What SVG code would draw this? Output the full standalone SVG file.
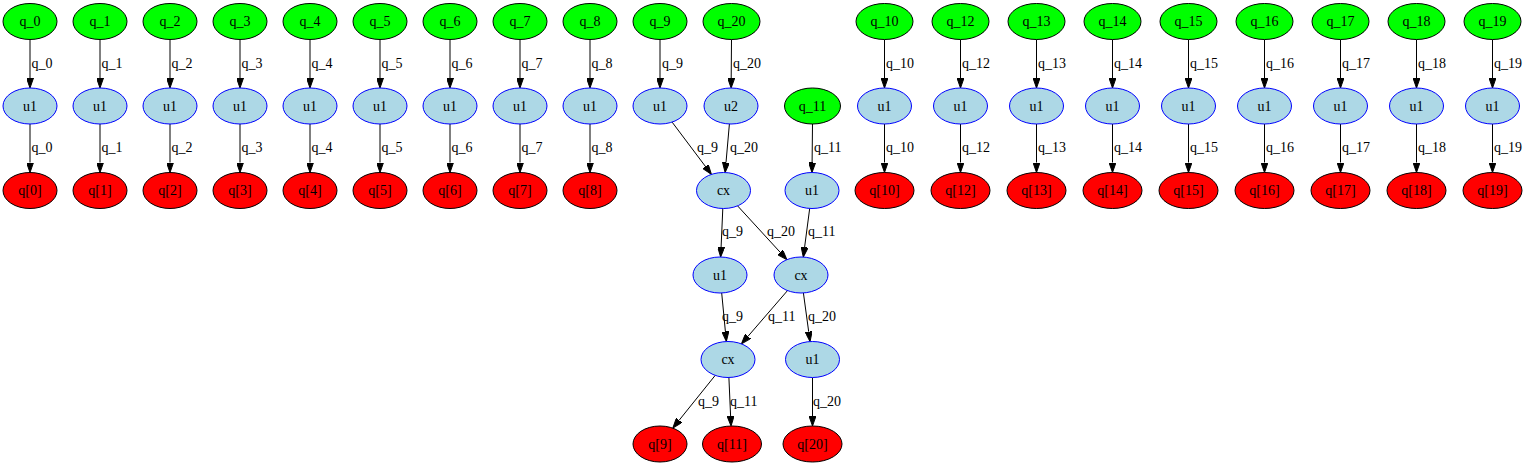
<svg xmlns="http://www.w3.org/2000/svg" width="1525" height="466" viewBox="0 0 1525 466">
<style>
text{font-family:"Liberation Serif","Times New Roman",serif;font-size:14px;fill:#000}
.n text{text-anchor:middle}
.in{fill:#00ff00;stroke:#000}
.op{fill:#add8e6;stroke:#0000ff}
.out{fill:#ff0000;stroke:#000}
#edges line{stroke:#000;stroke-width:1;marker-end:url(#ah)}
</style>
<defs>
<marker id="ah" markerUnits="userSpaceOnUse" markerWidth="10" markerHeight="7" viewBox="0 0 10 7" refX="0" refY="3.5" orient="auto"><path d="M0,0 L10,3.5 L0,7 z" fill="#000" stroke="#000"/></marker>
</defs>
<rect width="1525" height="466" fill="#fff"/>
<g id="edges">
<line x1="30" y1="39.5" x2="30" y2="78"/><line x1="30" y1="124" x2="30" y2="162.5"/>
<line x1="100" y1="39.5" x2="100" y2="78"/><line x1="100" y1="124" x2="100" y2="162.5"/>
<line x1="170" y1="39.5" x2="170" y2="78"/><line x1="170" y1="124" x2="170" y2="162.5"/>
<line x1="240" y1="39.5" x2="240" y2="78"/><line x1="240" y1="124" x2="240" y2="162.5"/>
<line x1="310" y1="39.5" x2="310" y2="78"/><line x1="310" y1="124" x2="310" y2="162.5"/>
<line x1="380" y1="39.5" x2="380" y2="78"/><line x1="380" y1="124" x2="380" y2="162.5"/>
<line x1="450" y1="39.5" x2="450" y2="78"/><line x1="450" y1="124" x2="450" y2="162.5"/>
<line x1="520" y1="39.5" x2="520" y2="78"/><line x1="520" y1="124" x2="520" y2="162.5"/>
<line x1="590" y1="39.5" x2="590" y2="78"/><line x1="590" y1="124" x2="590" y2="162.5"/>
<line x1="884.5" y1="39.5" x2="884.5" y2="78"/><line x1="884.5" y1="124" x2="884.5" y2="162.5"/>
<line x1="960.5" y1="39.5" x2="960.5" y2="78"/><line x1="960.5" y1="124" x2="960.5" y2="162.5"/>
<line x1="1036.5" y1="39.5" x2="1036.5" y2="78"/><line x1="1036.5" y1="124" x2="1036.5" y2="162.5"/>
<line x1="1112.5" y1="39.5" x2="1112.5" y2="78"/><line x1="1112.5" y1="124" x2="1112.5" y2="162.5"/>
<line x1="1188.5" y1="39.5" x2="1188.5" y2="78"/><line x1="1188.5" y1="124" x2="1188.5" y2="162.5"/>
<line x1="1264.5" y1="39.5" x2="1264.5" y2="78"/><line x1="1264.5" y1="124" x2="1264.5" y2="162.5"/>
<line x1="1340.5" y1="39.5" x2="1340.5" y2="78"/><line x1="1340.5" y1="124" x2="1340.5" y2="162.5"/>
<line x1="1416.5" y1="39.5" x2="1416.5" y2="78"/><line x1="1416.5" y1="124" x2="1416.5" y2="162.5"/>
<line x1="1492.5" y1="39.5" x2="1492.5" y2="78"/><line x1="1492.5" y1="124" x2="1492.5" y2="162.5"/>
<line x1="660" y1="39.5" x2="660" y2="78"/>
<line x1="731.5" y1="39.5" x2="731.2" y2="78"/>
<line x1="672.1" y1="122.1" x2="705.4" y2="166.4"/>
<line x1="729.4" y1="124" x2="726" y2="162.5"/>
<line x1="812.5" y1="124" x2="812.1" y2="162.5"/>
<line x1="722.8" y1="208.5" x2="721.1" y2="247"/>
<line x1="737.6" y1="205.9" x2="780.1" y2="252.2"/>
<line x1="809.7" y1="208.4" x2="804.6" y2="247.2"/>
<line x1="721.7" y1="293" x2="725.4" y2="331.5"/>
<line x1="787.5" y1="290.6" x2="748" y2="336.3"/>
<line x1="803.4" y1="292.9" x2="808.7" y2="331.7"/>
<line x1="715.2" y1="375.4" x2="679.1" y2="420.3"/>
<line x1="728.9" y1="377.5" x2="730.6" y2="416"/>
<line x1="812.5" y1="377.5" x2="812.5" y2="416"/>
<g id="edge-labels">
<text x="31.5" y="68">q_0</text><text x="31.5" y="152">q_0</text>
<text x="101.5" y="68">q_1</text><text x="101.5" y="152">q_1</text>
<text x="171.5" y="68">q_2</text><text x="171.5" y="152">q_2</text>
<text x="241.5" y="68">q_3</text><text x="241.5" y="152">q_3</text>
<text x="311.5" y="68">q_4</text><text x="311.5" y="152">q_4</text>
<text x="381.5" y="68">q_5</text><text x="381.5" y="152">q_5</text>
<text x="451.5" y="68">q_6</text><text x="451.5" y="152">q_6</text>
<text x="521.5" y="68">q_7</text><text x="521.5" y="152">q_7</text>
<text x="591.5" y="68">q_8</text><text x="591.5" y="152">q_8</text>
<text x="886" y="68">q_10</text><text x="886" y="152">q_10</text>
<text x="962" y="68">q_12</text><text x="962" y="152">q_12</text>
<text x="1038" y="68">q_13</text><text x="1038" y="152">q_13</text>
<text x="1114" y="68">q_14</text><text x="1114" y="152">q_14</text>
<text x="1190" y="68">q_15</text><text x="1190" y="152">q_15</text>
<text x="1266" y="68">q_16</text><text x="1266" y="152">q_16</text>
<text x="1342" y="68">q_17</text><text x="1342" y="152">q_17</text>
<text x="1418" y="68">q_18</text><text x="1418" y="152">q_18</text>
<text x="1494" y="68">q_19</text><text x="1494" y="152">q_19</text>
<text x="662" y="68">q_9</text>
<text x="733" y="68">q_20</text>
<text x="697" y="152">q_9</text>
<text x="730" y="152">q_20</text>
<text x="814" y="152">q_11</text>
<text x="722" y="236">q_9</text>
<text x="767" y="236">q_20</text>
<text x="808" y="236">q_11</text>
<text x="722" y="321">q_9</text>
<text x="768" y="321">q_11</text>
<text x="808" y="321">q_20</text>
<text x="698" y="406">q_9</text>
<text x="730" y="406">q_11</text>
<text x="813" y="406">q_20</text>
</g>
</g>
<g id="n_q0" class="n"><ellipse class="in" cx="30" cy="21.5" rx="27" ry="18"/><text x="30" y="26">q_0</text></g>
<g id="n_u1_0" class="n"><ellipse class="op" cx="30" cy="106" rx="27" ry="18"/><text x="30" y="110.5">u1</text></g>
<g id="n_out0" class="n"><ellipse class="out" cx="30" cy="190.5" rx="27" ry="18"/><text x="30" y="195">q[0]</text></g>
<g id="n_q1" class="n"><ellipse class="in" cx="100" cy="21.5" rx="27" ry="18"/><text x="100" y="26">q_1</text></g>
<g id="n_u1_1" class="n"><ellipse class="op" cx="100" cy="106" rx="27" ry="18"/><text x="100" y="110.5">u1</text></g>
<g id="n_out1" class="n"><ellipse class="out" cx="100" cy="190.5" rx="27" ry="18"/><text x="100" y="195">q[1]</text></g>
<g id="n_q2" class="n"><ellipse class="in" cx="170" cy="21.5" rx="27" ry="18"/><text x="170" y="26">q_2</text></g>
<g id="n_u1_2" class="n"><ellipse class="op" cx="170" cy="106" rx="27" ry="18"/><text x="170" y="110.5">u1</text></g>
<g id="n_out2" class="n"><ellipse class="out" cx="170" cy="190.5" rx="27" ry="18"/><text x="170" y="195">q[2]</text></g>
<g id="n_q3" class="n"><ellipse class="in" cx="240" cy="21.5" rx="27" ry="18"/><text x="240" y="26">q_3</text></g>
<g id="n_u1_3" class="n"><ellipse class="op" cx="240" cy="106" rx="27" ry="18"/><text x="240" y="110.5">u1</text></g>
<g id="n_out3" class="n"><ellipse class="out" cx="240" cy="190.5" rx="27" ry="18"/><text x="240" y="195">q[3]</text></g>
<g id="n_q4" class="n"><ellipse class="in" cx="310" cy="21.5" rx="27" ry="18"/><text x="310" y="26">q_4</text></g>
<g id="n_u1_4" class="n"><ellipse class="op" cx="310" cy="106" rx="27" ry="18"/><text x="310" y="110.5">u1</text></g>
<g id="n_out4" class="n"><ellipse class="out" cx="310" cy="190.5" rx="27" ry="18"/><text x="310" y="195">q[4]</text></g>
<g id="n_q5" class="n"><ellipse class="in" cx="380" cy="21.5" rx="27" ry="18"/><text x="380" y="26">q_5</text></g>
<g id="n_u1_5" class="n"><ellipse class="op" cx="380" cy="106" rx="27" ry="18"/><text x="380" y="110.5">u1</text></g>
<g id="n_out5" class="n"><ellipse class="out" cx="380" cy="190.5" rx="27" ry="18"/><text x="380" y="195">q[5]</text></g>
<g id="n_q6" class="n"><ellipse class="in" cx="450" cy="21.5" rx="27" ry="18"/><text x="450" y="26">q_6</text></g>
<g id="n_u1_6" class="n"><ellipse class="op" cx="450" cy="106" rx="27" ry="18"/><text x="450" y="110.5">u1</text></g>
<g id="n_out6" class="n"><ellipse class="out" cx="450" cy="190.5" rx="27" ry="18"/><text x="450" y="195">q[6]</text></g>
<g id="n_q7" class="n"><ellipse class="in" cx="520" cy="21.5" rx="27" ry="18"/><text x="520" y="26">q_7</text></g>
<g id="n_u1_7" class="n"><ellipse class="op" cx="520" cy="106" rx="27" ry="18"/><text x="520" y="110.5">u1</text></g>
<g id="n_out7" class="n"><ellipse class="out" cx="520" cy="190.5" rx="27" ry="18"/><text x="520" y="195">q[7]</text></g>
<g id="n_q8" class="n"><ellipse class="in" cx="590" cy="21.5" rx="27" ry="18"/><text x="590" y="26">q_8</text></g>
<g id="n_u1_8" class="n"><ellipse class="op" cx="590" cy="106" rx="27" ry="18"/><text x="590" y="110.5">u1</text></g>
<g id="n_out8" class="n"><ellipse class="out" cx="590" cy="190.5" rx="27" ry="18"/><text x="590" y="195">q[8]</text></g>
<g id="n_q9" class="n"><ellipse class="in" cx="660" cy="21.5" rx="27" ry="18"/><text x="660" y="26">q_9</text></g>
<g id="n_u1_9" class="n"><ellipse class="op" cx="660" cy="106" rx="27" ry="18"/><text x="660" y="110.5">u1</text></g>
<g id="n_q20" class="n"><ellipse class="in" cx="731.5" cy="21.5" rx="28.5" ry="18"/><text x="731.5" y="26">q_20</text></g>
<g id="n_u2_20" class="n"><ellipse class="op" cx="731" cy="106" rx="27" ry="18"/><text x="731" y="110.5">u2</text></g>
<g id="n_q11" class="n"><ellipse class="in" cx="812.5" cy="106" rx="28" ry="18"/><text x="812.5" y="110.5">q_11</text></g>
<g id="n_cx1" class="n"><ellipse class="op" cx="723.5" cy="190.5" rx="27" ry="18"/><text x="723.5" y="195">cx</text></g>
<g id="n_u1_11" class="n"><ellipse class="op" cx="812" cy="190.5" rx="27" ry="18"/><text x="812" y="195">u1</text></g>
<g id="n_u1_9b" class="n"><ellipse class="op" cx="720" cy="275" rx="27" ry="18"/><text x="720" y="279.5">u1</text></g>
<g id="n_cx2" class="n"><ellipse class="op" cx="801" cy="275" rx="27" ry="18"/><text x="801" y="279.5">cx</text></g>
<g id="n_cx3" class="n"><ellipse class="op" cx="728" cy="359.5" rx="27" ry="18"/><text x="728" y="364">cx</text></g>
<g id="n_u1_20" class="n"><ellipse class="op" cx="812.5" cy="359.5" rx="27" ry="18"/><text x="812.5" y="364">u1</text></g>
<g id="n_out9" class="n"><ellipse class="out" cx="660" cy="444" rx="27" ry="18"/><text x="660" y="448.5">q[9]</text></g>
<g id="n_out11" class="n"><ellipse class="out" cx="732" cy="444" rx="29.5" ry="18"/><text x="732" y="448.5">q[11]</text></g>
<g id="n_out20" class="n"><ellipse class="out" cx="812.5" cy="444" rx="29.5" ry="18"/><text x="812.5" y="448.5">q[20]</text></g>
<g id="n_q10" class="n"><ellipse class="in" cx="884.5" cy="21.5" rx="28.5" ry="18"/><text x="884.5" y="26">q_10</text></g>
<g id="n_u1_10" class="n"><ellipse class="op" cx="884.5" cy="106" rx="27" ry="18"/><text x="884.5" y="110.5">u1</text></g>
<g id="n_out10" class="n"><ellipse class="out" cx="884.5" cy="190.5" rx="29.5" ry="18"/><text x="884.5" y="195">q[10]</text></g>
<g id="n_q12" class="n"><ellipse class="in" cx="960.5" cy="21.5" rx="28.5" ry="18"/><text x="960.5" y="26">q_12</text></g>
<g id="n_u1_12" class="n"><ellipse class="op" cx="960.5" cy="106" rx="27" ry="18"/><text x="960.5" y="110.5">u1</text></g>
<g id="n_out12" class="n"><ellipse class="out" cx="960.5" cy="190.5" rx="29.5" ry="18"/><text x="960.5" y="195">q[12]</text></g>
<g id="n_q13" class="n"><ellipse class="in" cx="1036.5" cy="21.5" rx="28.5" ry="18"/><text x="1036.5" y="26">q_13</text></g>
<g id="n_u1_13" class="n"><ellipse class="op" cx="1036.5" cy="106" rx="27" ry="18"/><text x="1036.5" y="110.5">u1</text></g>
<g id="n_out13" class="n"><ellipse class="out" cx="1036.5" cy="190.5" rx="29.5" ry="18"/><text x="1036.5" y="195">q[13]</text></g>
<g id="n_q14" class="n"><ellipse class="in" cx="1112.5" cy="21.5" rx="28.5" ry="18"/><text x="1112.5" y="26">q_14</text></g>
<g id="n_u1_14" class="n"><ellipse class="op" cx="1112.5" cy="106" rx="27" ry="18"/><text x="1112.5" y="110.5">u1</text></g>
<g id="n_out14" class="n"><ellipse class="out" cx="1112.5" cy="190.5" rx="29.5" ry="18"/><text x="1112.5" y="195">q[14]</text></g>
<g id="n_q15" class="n"><ellipse class="in" cx="1188.5" cy="21.5" rx="28.5" ry="18"/><text x="1188.5" y="26">q_15</text></g>
<g id="n_u1_15" class="n"><ellipse class="op" cx="1188.5" cy="106" rx="27" ry="18"/><text x="1188.5" y="110.5">u1</text></g>
<g id="n_out15" class="n"><ellipse class="out" cx="1188.5" cy="190.5" rx="29.5" ry="18"/><text x="1188.5" y="195">q[15]</text></g>
<g id="n_q16" class="n"><ellipse class="in" cx="1264.5" cy="21.5" rx="28.5" ry="18"/><text x="1264.5" y="26">q_16</text></g>
<g id="n_u1_16" class="n"><ellipse class="op" cx="1264.5" cy="106" rx="27" ry="18"/><text x="1264.5" y="110.5">u1</text></g>
<g id="n_out16" class="n"><ellipse class="out" cx="1264.5" cy="190.5" rx="29.5" ry="18"/><text x="1264.5" y="195">q[16]</text></g>
<g id="n_q17" class="n"><ellipse class="in" cx="1340.5" cy="21.5" rx="28.5" ry="18"/><text x="1340.5" y="26">q_17</text></g>
<g id="n_u1_17" class="n"><ellipse class="op" cx="1340.5" cy="106" rx="27" ry="18"/><text x="1340.5" y="110.5">u1</text></g>
<g id="n_out17" class="n"><ellipse class="out" cx="1340.5" cy="190.5" rx="29.5" ry="18"/><text x="1340.5" y="195">q[17]</text></g>
<g id="n_q18" class="n"><ellipse class="in" cx="1416.5" cy="21.5" rx="28.5" ry="18"/><text x="1416.5" y="26">q_18</text></g>
<g id="n_u1_18" class="n"><ellipse class="op" cx="1416.5" cy="106" rx="27" ry="18"/><text x="1416.5" y="110.5">u1</text></g>
<g id="n_out18" class="n"><ellipse class="out" cx="1416.5" cy="190.5" rx="29.5" ry="18"/><text x="1416.5" y="195">q[18]</text></g>
<g id="n_q19" class="n"><ellipse class="in" cx="1492.5" cy="21.5" rx="28.5" ry="18"/><text x="1492.5" y="26">q_19</text></g>
<g id="n_u1_19" class="n"><ellipse class="op" cx="1492.5" cy="106" rx="27" ry="18"/><text x="1492.5" y="110.5">u1</text></g>
<g id="n_out19" class="n"><ellipse class="out" cx="1492.5" cy="190.5" rx="29.5" ry="18"/><text x="1492.5" y="195">q[19]</text></g>
</svg>
